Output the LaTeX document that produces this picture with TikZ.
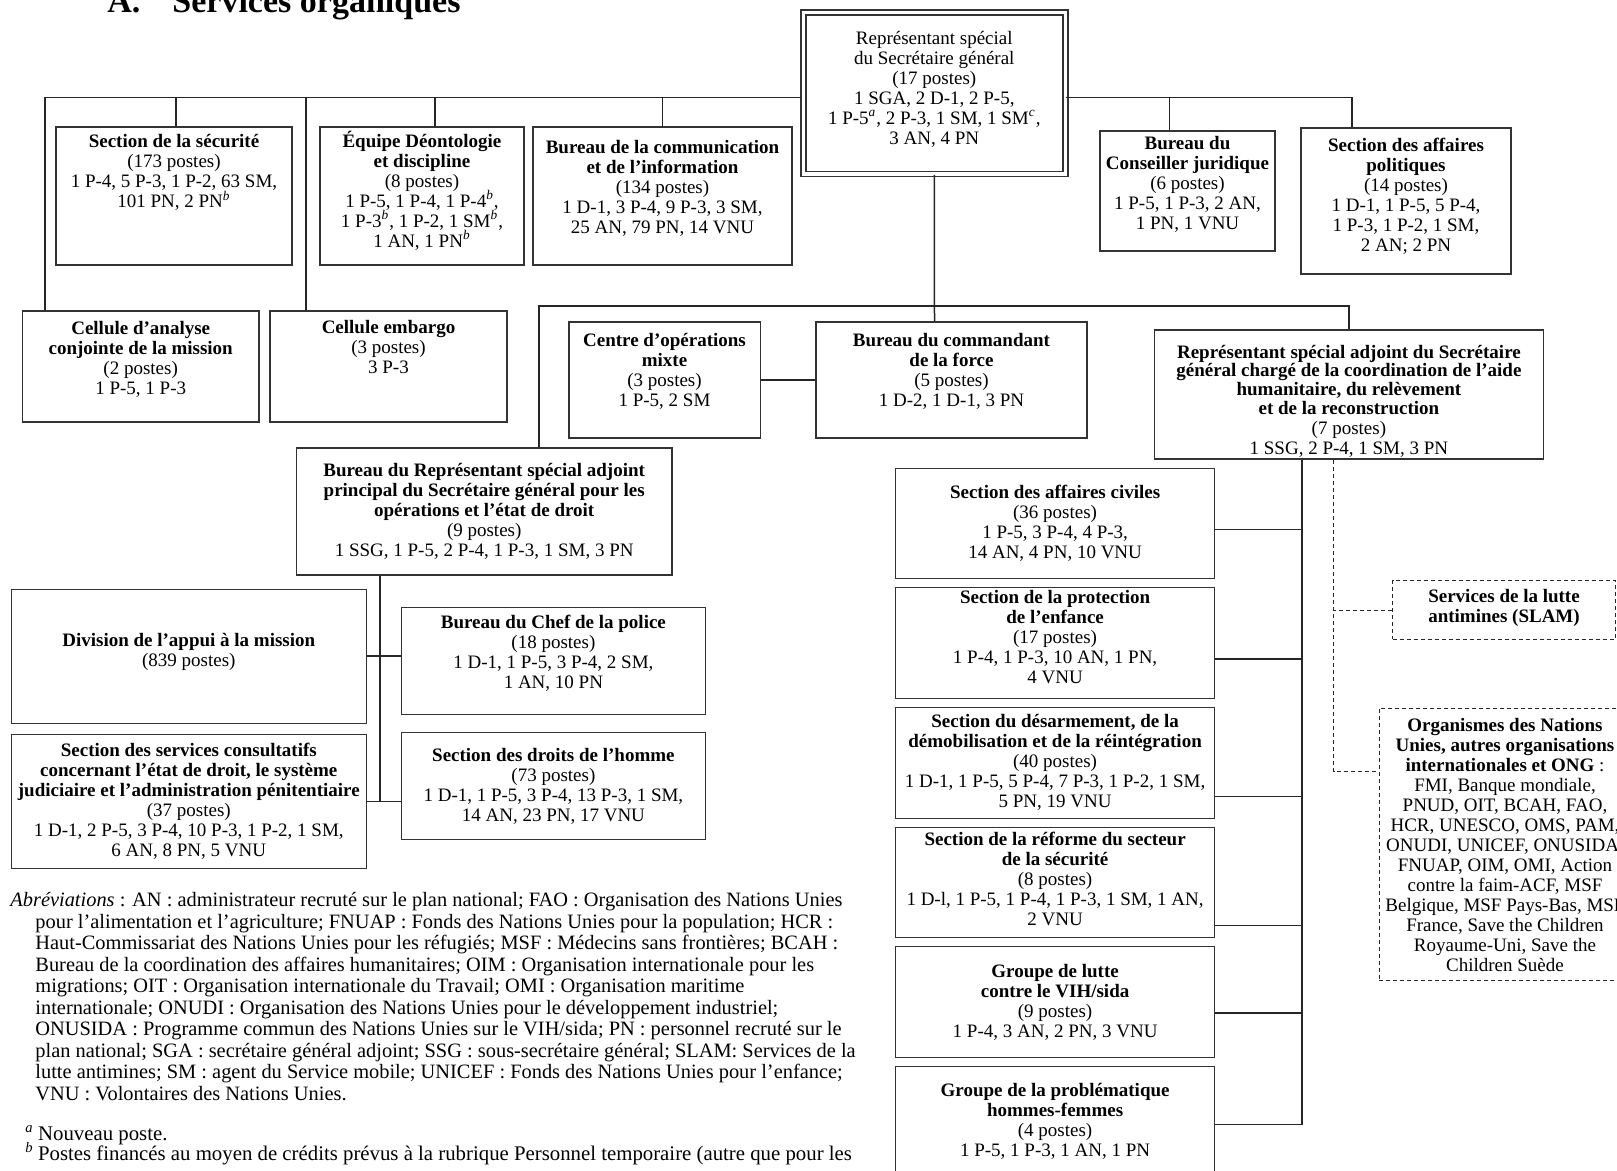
\documentclass[tikz,border=0pt]{standalone}
\usepackage{fontspec}
\setmainfont{Liberation Serif}
\usetikzlibrary{positioning}
\newcommand{\fnmark}[1]{\smash{\textsuperscript{\itshape #1}}}
\newcommand{\lift}[1]{\rule[-#1]{0pt}{#1}}
\tikzstyle{office} = [rectangle, draw=black!80, line width=0.9pt, fill=white, align=center, inner sep=1pt]
\tikzstyle{service} = [rectangle, draw=black!80, line width=0.5pt, fill=white, align=center, inner sep=1pt]
\tikzstyle{partner} = [rectangle, draw=black!85, line width=0.5pt, dash pattern=on 2pt off 1.5pt, fill=white, align=center, inner sep=1pt]
\tikzstyle{conn} = [line width=0.75pt, black!85]
\tikzstyle{dconn} = [line width=0.5pt, black!85, dash pattern=on 2pt off 1.5pt]

\begin{document}
\begin{tikzpicture}[x=0.5pt, y=-0.5pt, font=\fontsize{9.5}{10}\selectfont]
\useasboundingbox (0,0) rectangle (1617,1171);
\clip (0,0) rectangle (1617,1171);

\node[anchor=base west, inner sep=0pt, font=\fontsize{17}{20}\selectfont\bfseries] (title) at (107,13) {A.\hspace{16pt}Services organiques};

% head of mission
\node[office, double, double distance=1.6pt, minimum width=131.2pt, minimum height=80.8pt] (rssg) at (934.3,93.3) {Représentant spécial\\du Secrétaire général\\(17 postes)\\1 SGA, 2 D-1, 2 P-5,\\1 P-5\fnmark{a}, 2 P-3, 1 SM, 1 SM\fnmark{c},\\3 AN, 4 PN\lift{5.8pt}};

% first row
\node[office, minimum width=118pt, minimum height=69pt] (secu) at (174,196) {};
\node[align=center, inner sep=0pt, below=4pt of secu.north] (secutext) {\textbf{Section de la sécurité}\\(173 postes)\\1 P-4, 5 P-3, 1 P-2, 63 SM,\\101 PN, 2 PN\fnmark{b}};
\node[office, minimum width=102pt, minimum height=69pt] (equipe) at (422,196) {\textbf{Équipe Déontologie}\\\textbf{et discipline}\\(8 postes)\\1 P-5, 1 P-4, 1 P-4\fnmark{b},\\1 P-3\fnmark{b}, 1 P-2, 1 SM\fnmark{b},\\1 AN, 1 PN\fnmark{b}\lift{6.9pt}};
\node[office, minimum width=129.5pt, minimum height=69pt] (comm) at (662.5,196) {\textbf{Bureau de la communication}\\\textbf{et de l’information}\\(134 postes)\\1 D-1, 3 P-4, 9 P-3, 3 SM,\\25 AN, 79 PN, 14 VNU\lift{8.9pt}};
\node[office, minimum width=87.5pt, minimum height=60pt] (conseil) at (1187.5,190.7) {\textbf{Bureau du}\\\textbf{Conseiller juridique}\\(6 postes)\\1 P-5, 1 P-3, 2 AN,\\1 PN, 1 VNU\lift{7.4pt}};
\node[office, minimum width=104.8pt, minimum height=72.8pt] (polit) at (1406,201) {\textbf{Section des affaires}\\\textbf{politiques}\\(14 postes)\\1 D-1, 1 P-5, 5 P-4,\\1 P-3, 1 P-2, 1 SM,\\2 AN; 2 PN\lift{6.3pt}};

% second row
\node[office, minimum width=118.2pt, minimum height=55.5pt] (analyse) at (140.7,366.2) {\textbf{Cellule d’analyse}\\\textbf{conjointe de la mission}\\(2 postes)\\1 P-5, 1 P-3\lift{7.9pt}};
\node[office, minimum width=118.5pt, minimum height=55.5pt] (embargo) at (388.5,366.2) {};
\node[align=center, inner sep=0pt, below=5pt of embargo.north] (embargotext) {\textbf{Cellule embargo}\\(3 postes)\\3 P-3};
\node[office, minimum width=95.9pt, minimum height=57.7pt] (centre) at (664.5,380) {\textbf{Centre d’opérations}\\\textbf{mixte}\\(3 postes)\\1 P-5, 2 SM\lift{9.9pt}};
\node[office, minimum width=135.5pt, minimum height=57.7pt] (cmdt) at (951.5,380) {\textbf{Bureau du commandant}\\\textbf{de la force}\\(5 postes)\\1 D-2, 1 D-1, 3 PN\lift{9.9pt}};
\node[office, minimum width=194.5pt, minimum height=61.2pt] (rshum) at (1348.9,394.5) {\rule{0pt}{13.2pt}\textbf{Représentant spécial adjoint du Secrétaire}\\[-0.7pt]\textbf{général chargé de la coordination de l’aide}\\[-0.7pt]\textbf{humanitaire, du relèvement}\\[-0.7pt]\textbf{et de la reconstruction}\\(7 postes)\\1 SSG, 2 P-4, 1 SM, 3 PN};
\node[office, minimum width=187.8pt, minimum height=63.7pt] (rsprinc) at (484.2,511.4) {\textbf{Bureau du Représentant spécial adjoint}\\\textbf{principal du Secrétaire général pour les}\\\textbf{opérations et l’état de droit}\\(9 postes)\\1 SSG, 1 P-5, 2 P-4, 1 P-3, 1 SM, 3 PN};

% under the principal deputy
\node[service, minimum width=177.3pt, minimum height=67.2pt] (division) at (188.8,656.2) {\textbf{Division de l’appui à la mission}\\(839 postes)\lift{6.2pt}};
\node[service, minimum width=151.6pt, minimum height=53.5pt] (police) at (553.4,660.8) {\textbf{Bureau du Chef de la police}\\(18 postes)\\1 D-1, 1 P-5, 3 P-4, 2 SM,\\1 AN, 10 PN\lift{9.4pt}};
\node[service, minimum width=177.3pt, minimum height=67.2pt] (consult) at (188.8,801.5) {\textbf{Section des services consultatifs}\\\textbf{concernant l’état de droit, le système}\\\textbf{judiciaire et l’administration pénitentiaire}\\(37 postes)\\1 D-1, 2 P-5, 3 P-4, 10 P-3, 1 P-2, 1 SM,\\6 AN, 8 PN, 5 VNU};
\node[service, minimum width=151.6pt, minimum height=53.3pt] (droits) at (553.4,786) {\textbf{Section des droits de l’homme}\\(73 postes)\\1 D-1, 1 P-5, 3 P-4, 13 P-3, 1 SM,\\14 AN, 23 PN, 17 VNU};

% under the humanitarian deputy
\begin{scope}[every node/.append style={service, minimum width=159.8pt, minimum height=55.3pt}, node distance=4pt]
\node (civiles) at (1055.1,523.5) {\textbf{Section des affaires civiles}\\(36 postes)\\1 P-5, 3 P-4, 4 P-3,\\14 AN, 4 PN, 10 VNU};
\node[below=of civiles] (protect) {\textbf{Section de la protection}\\\textbf{de l’enfance}\\(17 postes)\\1 P-4, 1 P-3, 10 AN, 1 PN,\\4 VNU\lift{5.8pt}};
\node[below=of protect] (ddr) {\textbf{Section du désarmement, de la}\\\textbf{démobilisation et de la réintégration}\\(40 postes)\\1 D-1, 1 P-5, 5 P-4, 7 P-3, 1 P-2, 1 SM,\\5 PN, 19 VNU};
\node[below=of ddr] (reforme) {\textbf{Section de la réforme du secteur}\\\textbf{de la sécurité}\\(8 postes)\\1 D-l, 1 P-5, 1 P-4, 1 P-3, 1 SM, 1 AN,\\2 VNU\lift{3.2pt}};
\node[below=of reforme] (vih) {\textbf{Groupe de lutte}\\\textbf{contre le VIH/sida}\\(9 postes)\\1 P-4, 3 AN, 2 PN, 3 VNU};
\node[below=of vih] (probl) {\textbf{Groupe de la problématique}\\\textbf{hommes-femmes}\\(4 postes)\\1 P-5, 1 P-3, 1 AN, 1 PN};
\end{scope}

\node[partner, minimum width=111.5pt, minimum height=29.3pt] (slam) at (1504,610) {\textbf{Services de la lutte}\\\textbf{antimines (SLAM)}\lift{4.1pt}};
\node[partner, minimum width=126pt, minimum height=136.2pt] (org) at (1505,844.5) {\textbf{Organismes des Nations}\\\textbf{Unies, autres organisations}\\\textbf{internationales et ONG} :\\FMI, Banque mondiale,\\PNUD, OIT, BCAH, FAO,\\HCR, UNESCO, OMS, PAM,\\ONUDI, UNICEF, ONUSIDA,\\FNUAP, OIM, OMI, Action\\contre la faim-ACF, MSF\\Belgique, MSF Pays-Bas, MSF\\France, Save the Children\\Royaume-Uni, Save the\\Children Suède};

% connectors
\coordinate (topbarL) at ([yshift=-2pt]rssg.west);
\coordinate (topbarR) at ([yshift=-2pt]rssg.east);
\draw[conn] ([xshift=11.75pt]analyse.north west) |- (topbarL);
\draw[conn] ([xshift=18.5pt]embargo.north west) |- (topbarL);
\foreach \n/\s in {secu/1pt, equipe/6.5pt, comm/0pt}
  \draw[conn] ([xshift=\s]\n.north) |- (topbarL);
\foreach \n/\s in {conseil/-9pt, polit/-27pt}
  \draw[conn] ([xshift=\s]\n.north) |- (topbarR);
\draw[conn] (rssg.south) -- ([xshift=-8.5pt]cmdt.north);
\coordinate (bar) at (934.5,306);
\draw[conn] ([xshift=27.5pt]rsprinc.north) |- (bar) -| (rshum.north);
\draw[conn] (centre.east) -- (cmdt.west);

\draw[conn] ([xshift=-52.2pt]rsprinc.south) |- (consult.east);
\draw[conn] (consult.east) -- (consult.east -| droits.west);
\draw[conn] (division.east) -- (division.east -| police.west);

\coordinate (humtrunk) at ([xshift=-23.5pt]rshum.south);
\draw[conn] ([yshift=-1.5pt]probl.east) -| (humtrunk);
\foreach \n/\s in {civiles/-3pt, protect/-8pt, ddr/-17pt, reforme/-21.5pt, vih/-5.6pt}
  \draw[conn] ([yshift=\s]\n.east) -| (humtrunk);
\coordinate (humdash) at ([xshift=-7.5pt]rshum.south);
\draw[dconn] (humdash) |- ([yshift=36.4pt]org.west);
\draw[dconn] (slam.west) -- (slam.west -| humdash);

% notes
\node[anchor=north west, align=left, inner sep=0pt, font=\fontsize{10.2}{10.75}\selectfont] (abbrev) at (10,892) {\textit{Abréviations} : AN : administrateur recruté sur le plan national; FAO : Organisation des Nations Unies\\
\hspace*{12.5pt}pour l’alimentation et l’agriculture; FNUAP : Fonds des Nations Unies pour la population; HCR :\\
\hspace*{12.5pt}Haut-Commissariat des Nations Unies pour les réfugiés; MSF : Médecins sans frontières; BCAH :\\
\hspace*{12.5pt}Bureau de la coordination des affaires humanitaires; OIM : Organisation internationale pour les\\
\hspace*{12.5pt}migrations; OIT : Organisation internationale du Travail; OMI : Organisation maritime\\
\hspace*{12.5pt}internationale; ONUDI : Organisation des Nations Unies pour le développement industriel;\\
\hspace*{12.5pt}ONUSIDA : Programme commun des Nations Unies sur le VIH/sida; PN : personnel recruté sur le\\
\hspace*{12.5pt}plan national; SGA : secrétaire général adjoint; SSG : sous-secrétaire général; SLAM: Services de la\\
\hspace*{12.5pt}lutte antimines; SM : agent du Service mobile; UNICEF : Fonds des Nations Unies pour l’enfance;\\
\hspace*{12.5pt}VNU : Volontaires des Nations Unies.};
\node[anchor=base west, inner sep=0pt, font=\fontsize{10.4}{11}\selectfont] (notea) at (25,1140) {\makebox[6.35pt][l]{\fnmark{a}}Nouveau poste.};
\node[anchor=base west, inner sep=0pt, font=\fontsize{10.4}{11}\selectfont] (noteb) at (25,1160) {\makebox[6.35pt][l]{\fnmark{b}}Postes financés au moyen de crédits prévus à la rubrique Personnel temporaire (autre que pour les};
\end{tikzpicture}
\end{document}
